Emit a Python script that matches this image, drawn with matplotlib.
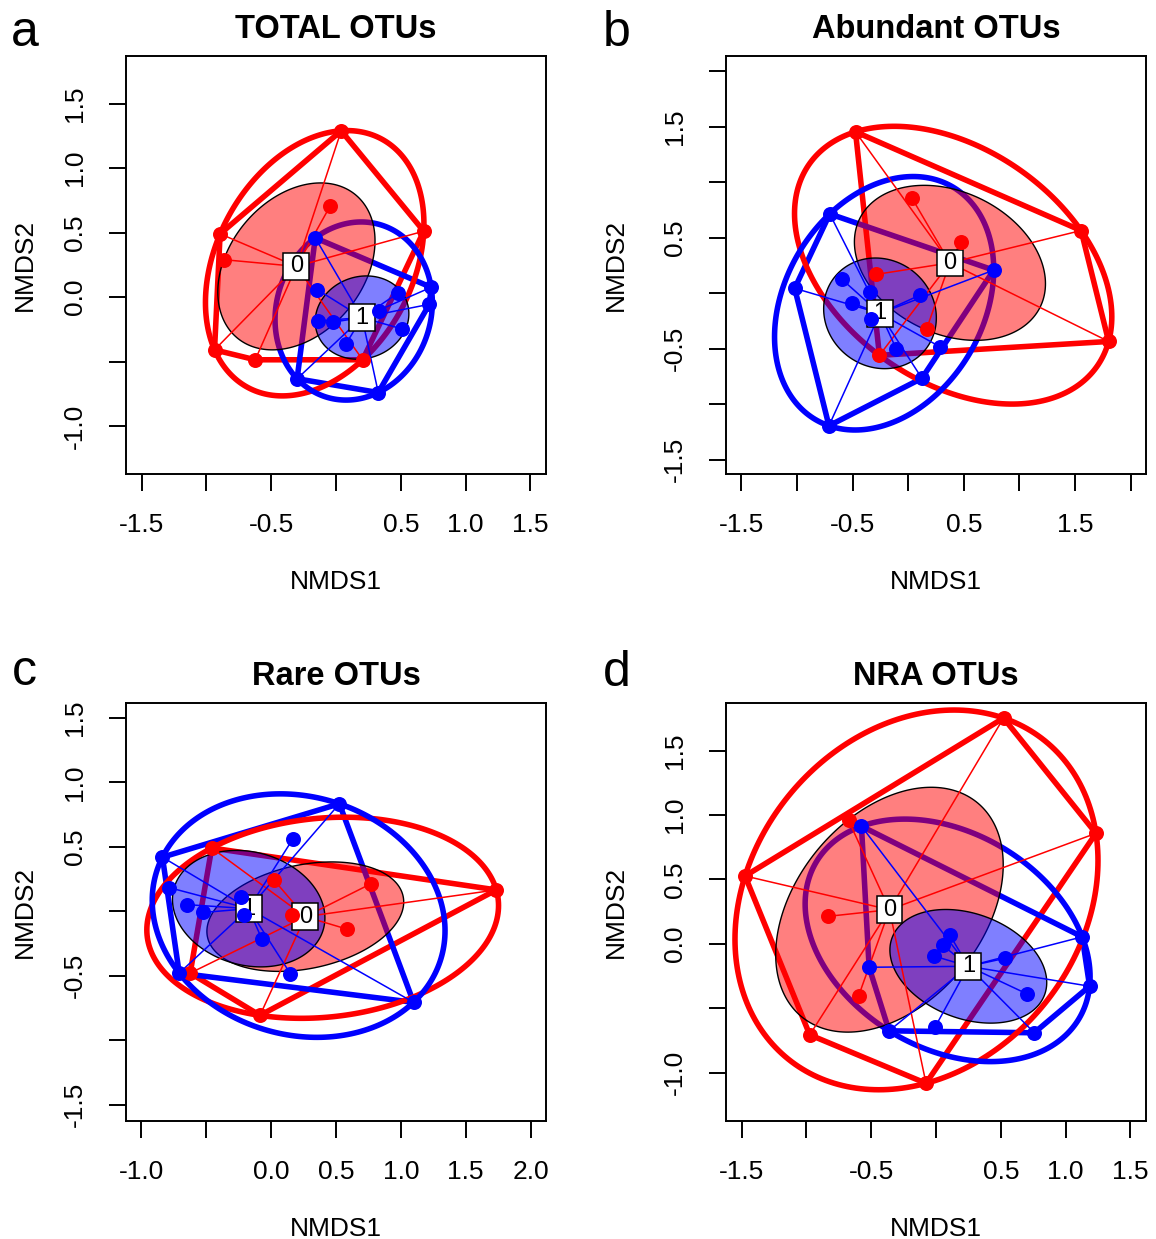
import numpy as np
import matplotlib.pyplot as plt
from matplotlib.patches import Polygon

plt.rcParams['font.family'] = ['Liberation Sans', 'DejaVu Sans']

# NMDS scores, group 0 (red) and group 1 (blue)
a_red_x = [0.04, -0.046, 0.677, -0.894, -0.866, -0.937, -0.623, 0.206]
a_red_y = [1.29, 0.705, 0.512, 0.491, 0.291, -0.408, -0.485, -0.485]
a_blue_x = [-0.16, -0.143, -0.137, -0.023, 0.077, 0.334, 0.477, 0.506, 0.734, 0.72, 0.326, -0.3]
a_blue_y = [0.46, 0.058, -0.184, -0.193, -0.362, -0.11, 0.031, -0.245, 0.077, -0.055, -0.739, -0.632]

b_red_x = [-0.474, 0.033, 0.471, 1.555, 1.803, -0.292, 0.166, -0.259]
b_red_y = [1.454, 0.857, 0.457, 0.564, -0.436, 0.168, -0.321, -0.561]
b_blue_x = [-0.706, -1.021, -0.597, -0.507, -0.341, -0.331, 0.106, 0.769, -0.109, 0.282, 0.123, -0.713]
b_blue_y = [0.714, 0.043, 0.125, -0.089, 0.007, -0.232, -0.018, 0.207, -0.5, -0.482, -0.768, -1.196]

c_red_x = [-0.458, 0.02, 0.772, 1.736, 0.163, 0.584, -0.624, -0.086]
c_red_y = [0.491, 0.245, 0.215, 0.166, -0.025, -0.138, -0.479, -0.807]
c_blue_x = [0.526, 0.169, -0.838, -0.787, -0.652, -0.523, -0.229, -0.209, -0.072, 0.149, -0.709, 1.098]
c_blue_y = [0.834, 0.564, 0.42, 0.184, 0.052, -0.009, 0.113, -0.025, -0.215, -0.485, -0.479, -0.706]

d_red_x = [0.521, 1.234, -1.473, -0.675, -0.832, -0.596, -0.974, -0.077]
d_red_y = [1.752, 0.858, 0.527, 0.959, 0.214, -0.4, -0.705, -1.081]
d_blue_x = [-0.575, 0.105, 0.055, -0.015, 0.53, -0.516, 1.128, 1.185, 0.705, -0.006, -0.362, 0.758]
d_blue_y = [0.913, 0.072, -0.012, -0.094, -0.112, -0.181, 0.055, -0.328, -0.389, -0.643, -0.674, -0.689]

titles = ['TOTAL OTUs', 'Abundant OTUs', 'Rare OTUs', 'NRA OTUs']
letters = ['a', 'b', 'c', 'd']

a_xticks = [-1.5, -1.0, -0.5, 0.0, 0.5, 1.0, 1.5]
a_xlabels = ['-1.5', '', '-0.5', '', '0.5', '1.0', '1.5']
a_yticks = [-1.0, -0.5, 0.0, 0.5, 1.0, 1.5]
a_ylabels = ['-1.0', '', '0.0', '0.5', '1.0', '1.5']
b_xticks = [-1.5, -1.0, -0.5, 0.0, 0.5, 1.0, 1.5, 2.0]
b_xlabels = ['-1.5', '', '-0.5', '', '0.5', '', '1.5', '']
b_yticks = [-1.5, -1.0, -0.5, 0.0, 0.5, 1.0, 1.5, 2.0]
b_ylabels = ['-1.5', '', '-0.5', '', '0.5', '', '1.5', '']
c_xticks = [-1.0, -0.5, 0.0, 0.5, 1.0, 1.5, 2.0]
c_xlabels = ['-1.0', '', '0.0', '0.5', '1.0', '1.5', '2.0']
c_yticks = [-1.5, -1.0, -0.5, 0.0, 0.5, 1.0, 1.5]
c_ylabels = ['-1.5', '', '-0.5', '', '0.5', '1.0', '1.5']
d_xticks = [-1.5, -1.0, -0.5, 0.0, 0.5, 1.0, 1.5]
d_xlabels = ['-1.5', '', '-0.5', '', '0.5', '1.0', '1.5']
d_yticks = [-1.0, -0.5, 0.0, 0.5, 1.0, 1.5]
d_ylabels = ['-1.0', '', '0.0', '0.5', '1.0', '1.5']

a_lims = ((-1.62, 1.62), (-1.368, 1.872))
b_lims = ((-1.639, 2.139), (-1.628, 2.14))
c_lims = ((-1.119, 2.119), (-1.624, 1.618))
d_lims = ((-1.62, 1.62), (-1.371, 1.871))

RED = '#FF0000'
BLUE = '#0000FF'


def convex_hull(P):
    pts = sorted(map(tuple, P))
    def cross(o, a, b):
        return (a[0]-o[0])*(b[1]-o[1]) - (a[1]-o[1])*(b[0]-o[0])
    lower, upper = [], []
    for p in pts:
        while len(lower) >= 2 and cross(lower[-2], lower[-1], p) <= 0:
            lower.pop()
        lower.append(p)
    for p in reversed(pts):
        while len(upper) >= 2 and cross(upper[-2], upper[-1], p) <= 0:
            upper.pop()
        upper.append(p)
    return np.array(lower[:-1] + upper[:-1])


def ellipsoid_hull(P, tol=1e-6):
    # minimum volume enclosing ellipse (Khachiyan), like cluster::ellipsoidhull
    n, d = P.shape
    Q = np.vstack([P.T, np.ones(n)])
    u = np.ones(n) / n
    for _ in range(20000):
        X = Q @ np.diag(u) @ Q.T
        M = np.einsum('ij,ji->i', Q.T @ np.linalg.inv(X), Q)
        j = np.argmax(M)
        step = (M[j] - d - 1) / ((d + 1) * (M[j] - 1))
        nu = (1 - step) * u
        nu[j] += step
        err = np.linalg.norm(nu - u)
        u = nu
        if err < tol:
            break
    c = P.T @ u
    cov = P.T @ np.diag(u) @ P - np.outer(c, c)
    return c, cov * d


def ellipse_xy(c, cov, n=240):
    t = np.linspace(0, 2*np.pi, n, endpoint=False)
    L = np.linalg.cholesky(cov)
    return (c[:, None] + L @ np.vstack([np.cos(t), np.sin(t)])).T


panels = [
    (a_red_x, a_red_y, a_blue_x, a_blue_y, a_xticks, a_xlabels, a_yticks, a_ylabels, a_lims),
    (b_red_x, b_red_y, b_blue_x, b_blue_y, b_xticks, b_xlabels, b_yticks, b_ylabels, b_lims),
    (c_red_x, c_red_y, c_blue_x, c_blue_y, c_xticks, c_xlabels, c_yticks, c_ylabels, c_lims),
    (d_red_x, d_red_y, d_blue_x, d_blue_y, d_xticks, d_xlabels, d_yticks, d_ylabels, d_lims),
]

W, H = 1156, 1239
fig = plt.figure(figsize=(W/100, H/100), dpi=100)
lefts = [126, 726, 126, 726]
tops = [55.7, 55.7, 702.7, 702.7]
ylab_x = [-0.24, -0.262, -0.24, -0.262]
letter_pos = [(11, 46), (603, 46), (12, 685), (603, 686)]

for k, (rx, ry, bx, by, xt, xl, yt, yl, lims) in enumerate(panels):
    ax = fig.add_axes([lefts[k]/W, 1 - (tops[k] + 418)/H, 420/W, 418/H])
    groups = [(np.column_stack([rx, ry]), RED, '0'), (np.column_stack([bx, by]), BLUE, '1')]

    # ordihull
    for P, col, lab in groups:
        ax.add_patch(Polygon(convex_hull(P), closed=True, fill=False, edgecolor=col,
                             lw=4.0, joinstyle='round', zorder=2))
    # ellipsoid hull
    for P, col, lab in groups:
        c, cv = ellipsoid_hull(P)
        ax.add_patch(Polygon(ellipse_xy(c, cv), closed=True, fill=False, edgecolor=col,
                             lw=4.0, joinstyle='round', zorder=2))
    # sd ellipses, filled
    for i, (P, col, lab) in enumerate(groups):
        e = ellipse_xy(P.mean(axis=0), np.cov(P.T))
        ax.add_patch(Polygon(e, closed=True, facecolor=col, alpha=0.5, edgecolor='none',
                             zorder=3 + i*0.1))
        ax.add_patch(Polygon(e, closed=True, fill=False, edgecolor='black', lw=1.0,
                             zorder=3.05 + i*0.1))
    # spiders
    for P, col, lab in groups:
        cx, cy = P.mean(axis=0)
        for px, py in P:
            ax.plot([cx, px], [cy, py], color=col, lw=1.1, zorder=4)
    for P, col, lab in groups:
        cx, cy = P.mean(axis=0)
        ax.text(cx, cy, lab, ha='center', va='center', fontsize=17, zorder=5,
                bbox=dict(boxstyle='square,pad=0.27', fc='white', ec='black', lw=1.1,
                          mutation_aspect=0.35))
    for P, col, lab in groups:
        ax.plot(P[:, 0], P[:, 1], 'o', color=col, ms=10.8, mew=0, zorder=6)

    ax.set_xlim(*lims[0])
    ax.set_ylim(*lims[1])
    ax.set_xticks(xt)
    ax.set_xticklabels(xl)
    ax.set_yticks(yt)
    ax.set_yticklabels(yl)
    ax.tick_params(direction='out', length=12.2, width=1.4, labelsize=19, pad=16)
    ax.tick_params(axis='y', labelrotation=90)
    for t in ax.get_yticklabels():
        t.set_va('center')
    for s in ax.spines.values():
        s.set_linewidth(1.4)

    ax.text(0.5, 1.062, titles[k], transform=ax.transAxes, ha='center', va='center',
            fontsize=23.5, fontweight='bold')
    ax.text(0.5, -0.259, 'NMDS1', transform=ax.transAxes, ha='center', va='center', fontsize=19)
    ax.text(ylab_x[k], 0.5, 'NMDS2', transform=ax.transAxes, ha='center', va='center',
            rotation=90, fontsize=19)
    lx, ly = letter_pos[k]
    fig.text(lx/W, 1 - ly/H, letters[k], fontsize=36, ha='left', va='baseline')

fig.savefig('out.png', dpi=100)
